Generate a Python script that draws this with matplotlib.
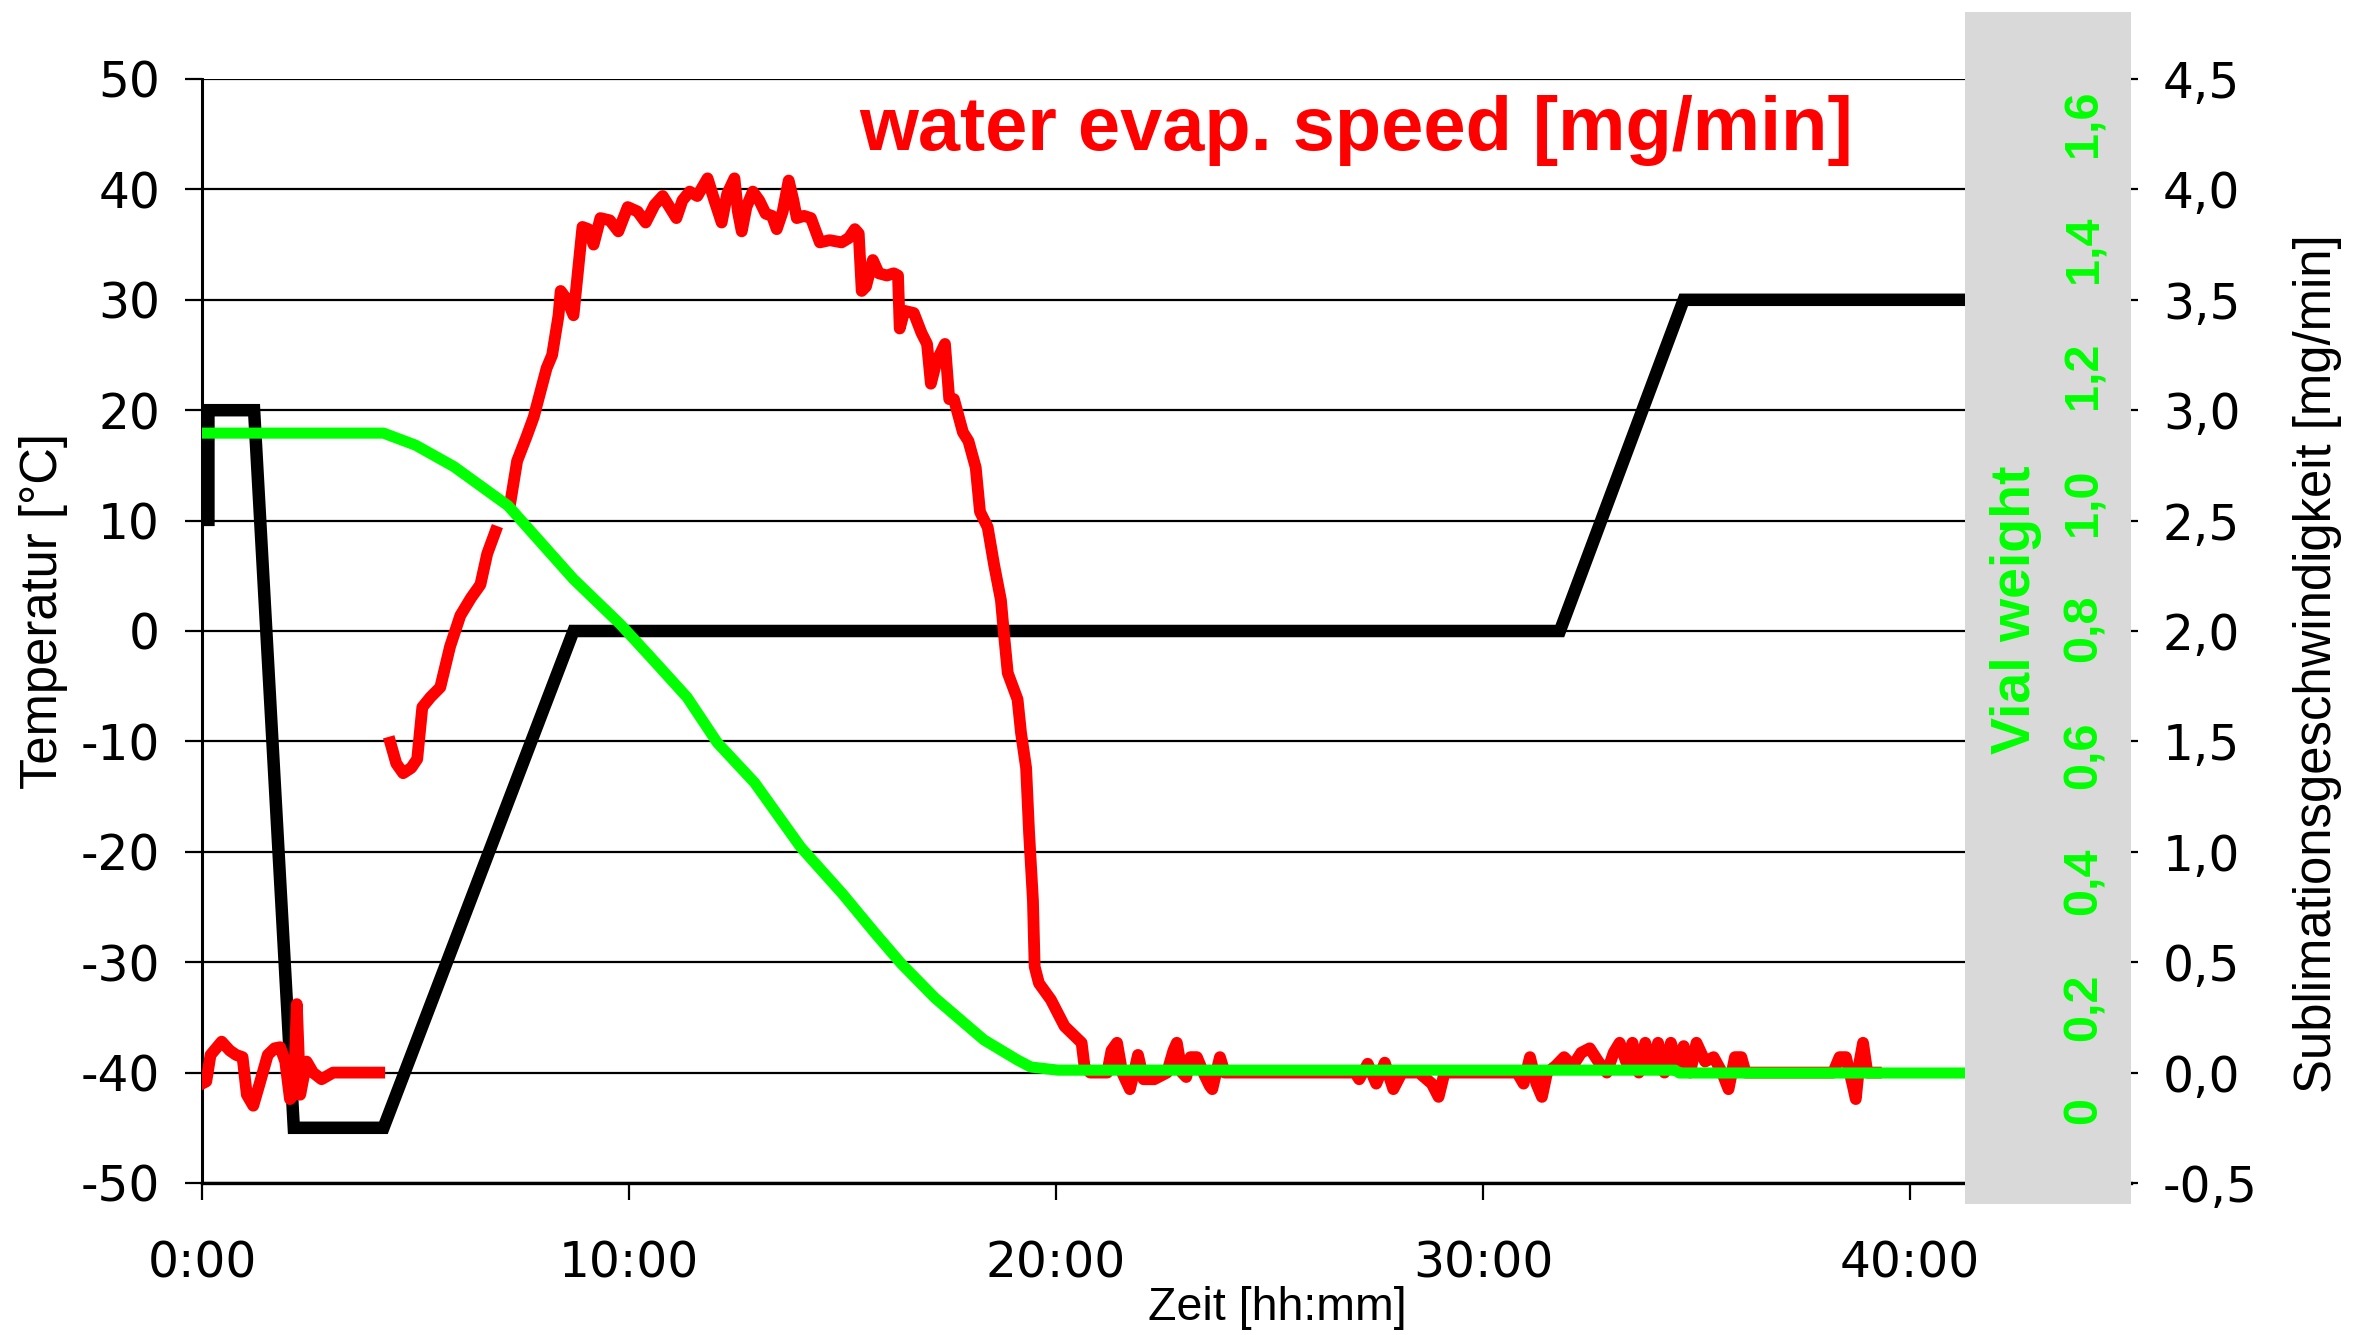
import numpy as np
import matplotlib
matplotlib.use("Agg")
import matplotlib.pyplot as plt
import matplotlib.transforms as mtransforms
from matplotlib.patches import Rectangle

# ---------------- data ----------------
# product temperature (left axis, degC) vs time [h]
temp_time = [0.15, 0.15, 1.22, 2.15, 4.25, 8.7, 31.8, 34.7, 41.3]
temp_vals = [9.5, 20, 20, -45, -45, 0, 0, 30, 30]

# water evaporation / sublimation speed (right axis, mg/min); NaN = gap
evap_time = [0.0, 0.1, 0.2, 0.35, 0.46, 0.65, 0.8, 0.95, 1.05, 1.2, 1.35, 1.54, 1.7, 1.83,
             1.95, 2.06, 2.15, 2.22, 2.3, 2.45, 2.6, 2.8, 3.07, 4.15,
             4.2,
             4.41, 4.55, 4.71, 4.9, 5.04, 5.16, 5.35, 5.58, 5.81, 6.05, 6.3, 6.52, 6.68, 6.87,
             7.0,
             7.22, 7.38, 7.6, 7.77, 8.07, 8.2, 8.35, 8.4, 8.55, 8.7, 8.81, 8.91, 9.05, 9.17,
             9.33, 9.55, 9.75, 9.97, 10.2, 10.39, 10.6, 10.79, 10.95, 11.11, 11.25, 11.42,
             11.6, 11.84, 12.0, 12.17, 12.3, 12.47, 12.55, 12.64, 12.75, 12.9, 13.05, 13.2,
             13.35, 13.46, 13.6, 13.74, 13.85, 13.93, 14.1, 14.26, 14.47, 14.7, 14.98, 15.15,
             15.29, 15.38, 15.45, 15.55, 15.71, 15.85, 16.04, 16.2, 16.3, 16.34, 16.45, 16.67,
             16.85, 16.98, 17.07, 17.2, 17.4, 17.5, 17.61, 17.82, 17.95, 18.12, 18.22, 18.4,
             18.55, 18.65, 18.71, 18.78, 18.87, 19.1, 19.18, 19.3, 19.37, 19.46, 19.5, 19.6,
             19.88, 20.2, 20.6, 20.67, 20.8, 21.2, 21.3, 21.43, 21.55, 21.73, 21.85, 21.92,
             22.05, 22.3, 22.6, 22.75, 22.83, 22.95, 23.05, 23.15, 23.3, 23.45, 23.6, 23.66,
             23.75, 23.84, 23.95, 24.5, 27.0, 27.1, 27.3, 27.5, 27.7, 27.9, 28.1, 28.5, 28.8,
             28.96, 29.1, 30.8, 30.95, 31.1, 31.25, 31.38, 31.5, 31.7, 31.9, 32.1, 32.3, 32.5,
             32.7, 32.9, 33.06, 33.2, 33.35, 33.5, 33.65, 33.8, 33.95, 34.1, 34.25, 34.4,
             34.55, 34.7, 34.85, 35.0, 35.2, 35.4, 35.6, 35.75, 35.9, 36.05, 36.15, 38.2,
             38.35, 38.5, 38.65, 38.73, 38.82, 38.9, 39.0, 39.2]
evap_vals = [-0.05, -0.04, 0.08, 0.115, 0.14, 0.1, 0.08, 0.07, -0.1, -0.15, -0.05, 0.08, 0.11, 0.115,
             0.05, -0.12, -0.1, 0.31, -0.1, 0.05, 0.0, -0.03, 0.0, 0.0,
             np.nan,
             1.495, 1.40, 1.356, 1.38, 1.42, 1.655, 1.70, 1.745, 1.93, 2.07, 2.15, 2.21, 2.35, 2.45,
             np.nan,
             2.58, 2.77, 2.88, 2.97, 3.19, 3.25, 3.43, 3.54, 3.5, 3.43, 3.64, 3.83, 3.82, 3.75,
             3.87, 3.86, 3.81, 3.92, 3.9, 3.85, 3.93, 3.97, 3.92, 3.87, 3.95, 3.99,
             3.97, 4.05, 3.95, 3.85, 3.98, 4.05, 3.9, 3.81, 3.92, 3.99, 3.95, 3.89,
             3.88, 3.82, 3.9, 4.04, 3.95, 3.87, 3.88, 3.87, 3.76, 3.77, 3.76, 3.78,
             3.82, 3.8, 3.54, 3.56, 3.68, 3.62, 3.61, 3.62, 3.61, 3.37, 3.45, 3.44,
             3.35, 3.30, 3.12, 3.22, 3.30, 3.05, 3.05, 2.9, 2.86, 2.74, 2.54, 2.47,
             2.3, 2.2, 2.14, 1.99, 1.81, 1.69, 1.54, 1.38, 1.085, 0.78, 0.48, 0.405,
             0.33, 0.21, 0.135, 0.025, 0.0, 0.0, 0.1, 0.135, 0.0, -0.075, 0.02, 0.08,
             -0.03, -0.03, 0.0, 0.1, 0.135, 0.0, -0.02, 0.07, 0.07, 0.0, -0.06, -0.075,
             0.0, 0.07, 0.0, 0.0, 0.0, -0.03, 0.04, -0.05, 0.045, -0.075, 0.0, 0.0, -0.05,
             -0.11, 0.0, 0.0, -0.05, 0.07, -0.05, -0.11, 0.0, 0.03, 0.07, 0.03, 0.09, 0.11,
             0.05, 0.0, 0.09, 0.135, 0.05, 0.135, 0.0, 0.135, 0.02, 0.135, 0.0, 0.135,
             0.03, 0.12, 0.0, 0.135, 0.05, 0.07, 0.0, -0.075, 0.07, 0.07, 0.0, 0.0,
             0.07, 0.07, -0.05, -0.12, 0.05, 0.135, 0.0, 0.0]

# vial weight (green scale)
weight_time = [0.0, 4.25, 5.0, 5.9, 7.17, 7.42, 8.7, 9.79, 10.5, 11.36, 12.07, 12.94, 14.02,
               15.0, 15.76, 16.37, 17.17, 18.31, 19.1, 19.41, 20.05, 34.5, 34.6, 41.3]
weight_vals = [1.109, 1.109, 1.09, 1.056, 0.994, 0.975, 0.878, 0.807, 0.755, 0.691, 0.619,
               0.556, 0.454, 0.38, 0.318, 0.27, 0.215, 0.149, 0.117, 0.106, 0.101, 0.101,
               0.0965, 0.0965]

x_ticks = [0, 10, 20, 30, 40]
x_ticklabels = ["0:00", "10:00", "20:00", "30:00", "40:00"]
left_ticks = list(range(-50, 51, 10))
left_ticklabels = [str(v) for v in left_ticks]
right_ticks = [-0.5, 0.0, 0.5, 1.0, 1.5, 2.0, 2.5, 3.0, 3.5, 4.0, 4.5]
right_ticklabels = ["-0,5", "0,0", "0,5", "1,0", "1,5", "2,0", "2,5", "3,0", "3,5", "4,0", "4,5"]
weight_ticks = [0, 0.2, 0.4, 0.6, 0.8, 1.0, 1.2, 1.4, 1.6]
weight_ticklabels = ["0", "0,2", "0,4", "0,6", "0,8", "1,0", "1,2", "1,4", "1,6"]

# ---------------- layout ----------------
W, H, DPI = 2360, 1335, 100
plt.rcParams["font.family"] = ["DejaVu Sans"]
plt.rcParams["axes.unicode_minus"] = False
fig = plt.figure(figsize=(W / DPI, H / DPI), dpi=DPI)
fig.patch.set_facecolor("white")

def fx(px):
    return px / W

def fy(py):
    return 1 - py / H

L, R, TOP, BOT = 202, 2131, 79, 1183
ax = fig.add_axes([fx(L), fy(BOT), (R - L) / W, (BOT - TOP) / H])
ax.set_xlim(0, (R - L) / 42.7)
ax.set_ylim(-50, 50)

RED = "#FF0000"
GREEN = "#00FF00"

ax.plot(temp_time, temp_vals, color="black", lw=9, solid_joinstyle="miter",
        solid_capstyle="butt", zorder=3)
ax.set_yticks(left_ticks)
ax.set_yticklabels(left_ticklabels)
ax.set_xticks(x_ticks)
ax.set_xticklabels(x_ticklabels)
ax.yaxis.grid(True, color="black", lw=1.6)
ax.xaxis.grid(False)
ax.set_axisbelow(True)
ax.tick_params(axis="y", direction="out", length=12.2, width=1.6, pad=18, labelsize=35)
ax.tick_params(axis="x", direction="out", length=12, width=1.6, pad=29, labelsize=35)
for s in ["top", "right"]:
    ax.spines[s].set_visible(False)
ax.spines["left"].set_linewidth(2.2)
ax.spines["bottom"].set_linewidth(2.4)

ax2 = ax.twinx()
ax2.set_ylim(-0.5, 4.5)
ax2.plot(evap_time, evap_vals, color=RED, lw=8.5, zorder=3)
ax2.set_yticks(right_ticks)
ax2.set_yticklabels(right_ticklabels)
ax2.tick_params(axis="y", direction="out", length=5, width=1.6, pad=18, labelsize=35)
for s in ax2.spines.values():
    s.set_visible(False)

ax3 = ax.twinx()
w0, wpx = 1134, 632.0
ax3.set_ylim((w0 - BOT) / wpx, (w0 - TOP) / wpx)
ax3.plot(weight_time, weight_vals, color=GREEN, lw=8, zorder=3)
ax3.set_yticks([])
for s in ax3.spines.values():
    s.set_visible(False)

# grey band
fig.add_artist(Rectangle((fx(1965), fy(1204)), (2131 - 1965) / W, (1204 - 12) / H,
                         transform=fig.transFigure, facecolor="#D9D9D9",
                         edgecolor="none", zorder=5))

# green vial weight tick labels
blend = mtransforms.blended_transform_factory(fig.transFigure, ax3.transData)
for v, lab in zip(weight_ticks, weight_ticklabels):
    tr = blend
    if lab == "0":
        tr = mtransforms.offset_copy(blend, fig=fig, x=0, y=23, units="dots")
    fig.text(fx(2084), v, lab, transform=tr, rotation=90, ha="center", va="center",
             color=GREEN, fontsize=35, fontweight="bold", family="Liberation Sans", zorder=6)

fig.text(fx(2016), fy(610), "Vial weight", rotation=90, ha="center", va="center",
         color=GREEN, fontsize=40, fontweight="bold", family="Liberation Sans", zorder=6)

fig.text(fx(1356), fy(131), "water evap. speed [mg/min]", ha="center", va="center",
         color=RED, fontsize=54.5, fontweight="bold", family="Liberation Sans", zorder=6)

fig.text(fx(44), fy(611), "Temperatur [°C]", rotation=90, ha="center", va="center",
         color="black", fontsize=36.5, family="Liberation Sans")
fig.text(fx(1277), fy(1308), "Zeit [hh:mm]", ha="center", va="center",
         color="black", fontsize=33.5, family="Liberation Sans")
fig.text(fx(2317), fy(664), "Sublimationsgeschwindigkeit [mg/min]", rotation=90,
         ha="center", va="center", color="black", fontsize=36.6, family="Liberation Sans")

fig.savefig("out.png", dpi=DPI, facecolor="white")
